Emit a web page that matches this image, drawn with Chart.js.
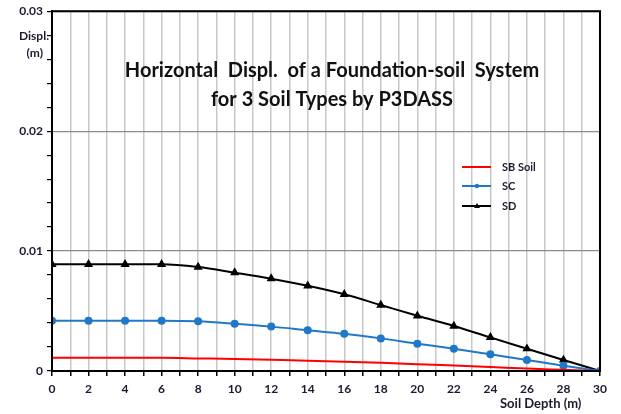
<!DOCTYPE html>
<html>
<head>
<meta charset="utf-8">
<script src="https://cdn.jsdelivr.net/npm/chart.js@4.4.1/dist/chart.umd.min.js"></script>
<style>
  html, body { margin: 0; padding: 0; background: #fff; }
  #wrap { width: 621px; height: 414px; }
</style>
</head>
<body>
<div id="wrap"><canvas id="chart" width="621" height="414"></canvas></div>
<script>
// soil depth (m)
const depths = [0, 2, 4, 6, 8, 10, 12, 14, 16, 18, 20, 22, 24, 26, 28, 30];

// horizontal displacement (m)
const sbSoil = [0.0011, 0.0011, 0.0011, 0.0011, 0.00105, 0.001, 0.00093, 0.00086, 0.00078, 0.00068, 0.00057, 0.00045, 0.00033, 0.0002, 0.0001, 0];
const sc = [0.0042, 0.0042, 0.0042, 0.0042, 0.00414, 0.00394, 0.0037, 0.0034, 0.0031, 0.00272, 0.00228, 0.00186, 0.00139, 0.00092, 0.00044, 0];
const sd = [0.0089, 0.0089, 0.0089, 0.0089, 0.00867, 0.0082, 0.0077, 0.0071, 0.0064, 0.0055, 0.0046, 0.00375, 0.0028, 0.00186, 0.00092, 0];

const seriesNames = ['SB Soil', 'SC', 'SD'];
const seriesColors = ['#ff0000', '#1f78c8', '#000000'];
const yTickLabels = ['0', '0.01', '0.02', '0.03'];

const titleLines = ['Horizontal  Displ.  of a Foundation-soil  System', 'for 3 Soil Types by P3DASS'];
const yTitle = ['Displ.', '(m)'];
const xTitle = 'Soil Depth (m)';

const textColor = '#1b1b2f';
const fontFamily = 'Lato, "Open Sans", sans-serif';

function toPoints(values) {
    return depths.map(function (d, i) {
        return { x: d, y: values[i] };
    });
}

function isMajor(v) {
    const r = v / 0.01;
    return Math.abs(r - Math.round(r)) < 1e-6;
}

const extras = {
    id: 'extras',
    afterDraw: function (chart) {
        const ctx = chart.ctx;
        const a = chart.chartArea;
        ctx.save();

        // plot frame
        ctx.strokeStyle = '#000';
        ctx.lineWidth = 2;
        ctx.strokeRect(a.left, a.top, a.right - a.left, a.bottom - a.top);

        // title
        ctx.fillStyle = '#111';
        ctx.font = 'bold 20px ' + fontFamily;
        ctx.textAlign = 'center';
        ctx.textBaseline = 'middle';
        ctx.fillText(titleLines[0], 332, 71);
        ctx.fillText(titleLines[1], 332, 100);

        // axis titles
        ctx.fillStyle = textColor;
        ctx.font = 'bold 12px ' + fontFamily;
        ctx.textAlign = 'right';
        ctx.fillText(yTitle[0], 49, 36);
        ctx.fillText(yTitle[1], 43, 53);
        ctx.font = 'bold 13px ' + fontFamily;
        ctx.textAlign = 'left';
        ctx.fillText(xTitle, 500, 404);

        // legend
        ctx.font = 'bold 11px ' + fontFamily;
        const ys = [167, 186, 206];
        for (let i = 0; i < seriesNames.length; i++) {
            const y = ys[i];
            ctx.strokeStyle = seriesColors[i];
            ctx.lineWidth = 2;
            ctx.beginPath();
            ctx.moveTo(462, y);
            ctx.lineTo(491, y);
            ctx.stroke();
            ctx.fillStyle = seriesColors[i];
            if (i === 1) {
                ctx.beginPath();
                ctx.arc(477, y, 2.2, 0, Math.PI * 2);
                ctx.fill();
            } else if (i === 2) {
                ctx.beginPath();
                ctx.moveTo(477, y - 3);
                ctx.lineTo(480, y + 2);
                ctx.lineTo(474, y + 2);
                ctx.closePath();
                ctx.fill();
            }
            ctx.fillStyle = textColor;
            ctx.fillText(seriesNames[i], 502, y);
        }
        ctx.restore();
    }
};

const ctx = document.getElementById('chart').getContext('2d');

new Chart(ctx, {
    type: 'line',
    data: {
        datasets: [
            {
                label: seriesNames[0],
                data: toPoints(sbSoil),
                borderColor: seriesColors[0],
                backgroundColor: seriesColors[0],
                borderWidth: 2,
                pointRadius: 0,
                cubicInterpolationMode: 'monotone'
            },
            {
                label: seriesNames[1],
                data: toPoints(sc),
                borderColor: seriesColors[1],
                backgroundColor: seriesColors[1],
                borderWidth: 2,
                pointRadius: 3,
                pointStyle: 'circle',
                cubicInterpolationMode: 'monotone'
            },
            {
                label: seriesNames[2],
                data: toPoints(sd),
                borderColor: seriesColors[2],
                backgroundColor: seriesColors[2],
                borderWidth: 2,
                pointRadius: 3.3,
                pointStyle: 'triangle',
                cubicInterpolationMode: 'monotone'
            }
        ]
    },
    options: {
        responsive: false,
        animation: false,
        layout: { padding: { top: 10, right: 21, left: 0, bottom: 0 } },
        plugins: {
            legend: { display: false },
            title: { display: false },
            tooltip: { enabled: false }
        },
        scales: {
            x: {
                type: 'linear',
                min: 0,
                max: 30,
                afterFit: function (scale) { scale.height = 43; },
                ticks: {
                    stepSize: 1,
                    autoSkip: false,
                    maxRotation: 0,
                    padding: 6,
                    color: textColor,
                    font: { family: fontFamily, size: 12, weight: 'bold' },
                    callback: function (v) { return v % 2 === 0 ? String(v) : ''; }
                },
                grid: {
                    color: '#c8c8c8',
                    lineWidth: 1.5,
                    tickColor: '#000',
                    tickLength: 5
                },
                border: { color: '#000', width: 2 }
            },
            y: {
                min: 0,
                max: 0.03,
                afterFit: function (scale) { scale.width = 52; },
                ticks: {
                    stepSize: 0.002,
                    autoSkip: false,
                    padding: 4,
                    color: textColor,
                    font: { family: fontFamily, size: 12, weight: 'bold' },
                    callback: function (v) {
                        if (!isMajor(v)) return '';
                        return yTickLabels[Math.round(v / 0.01)];
                    }
                },
                grid: {
                    color: function (c) {
                        return c.tick && isMajor(c.tick.value) ? '#8c8c8c' : 'rgba(0,0,0,0)';
                    },
                    lineWidth: 1.2,
                    tickColor: '#000',
                    tickLength: 5
                },
                border: { color: '#000', width: 2 }
            }
        }
    },
    plugins: [extras]
});
</script>
</body>
</html>
